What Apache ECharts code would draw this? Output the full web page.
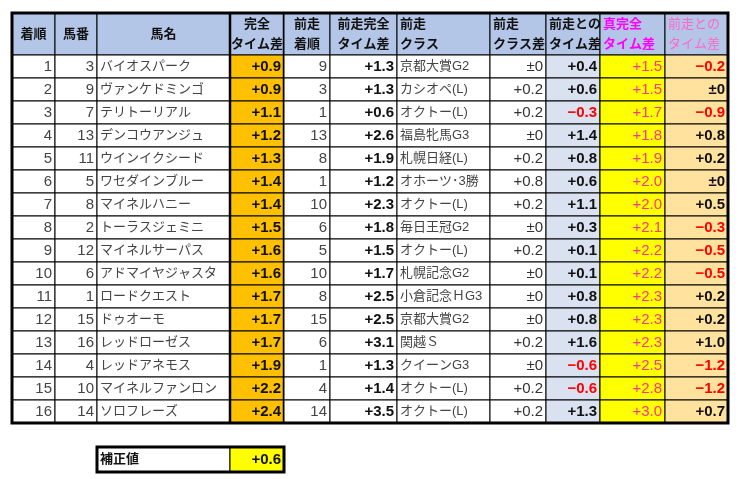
<!DOCTYPE html>
<html>
<head>
<meta charset="utf-8">
<script src="https://cdn.jsdelivr.net/npm/echarts@6/dist/echarts.min.js"></script>
<style>html,body{margin:0;background:#fff}#main{width:739px;height:479px}</style>
</head>
<body>
<div id="main"></div>
<script>
// 表のデータ
let headers = ['着順', '馬番', '馬名', '完全\nタイム差', '前走\n着順', '前走完全\nタイム差', '前走\nクラス', '前走\nクラス差', '前走との\nタイム差', '真完全\nタイム差', '前走との\nタイム差'];
let finish = [1, 2, 3, 4, 5, 6, 7, 8, 9, 10, 11, 12, 13, 14, 15, 16];
let horseNo = [3, 9, 7, 13, 11, 5, 8, 2, 12, 6, 1, 15, 16, 4, 10, 14];
let names = ['バイオスパーク', 'ヴァンケドミンゴ', 'テリトーリアル', 'デンコウアンジュ', 'ウインイクシード', 'ワセダインブルー', 'マイネルハニー', 'トーラスジェミニ', 'マイネルサーパス', 'アドマイヤジャスタ', 'ロードクエスト', 'ドゥオーモ', 'レッドローゼス', 'レッドアネモス', 'マイネルファンロン', 'ソロフレーズ'];
let fullDiff = [0.9, 0.9, 1.1, 1.2, 1.3, 1.4, 1.4, 1.5, 1.6, 1.6, 1.7, 1.7, 1.7, 1.9, 2.2, 2.4];
let prevFinish = [9, 3, 1, 13, 8, 1, 10, 6, 5, 10, 8, 15, 6, 1, 4, 14];
let prevFull = [1.3, 1.3, 0.6, 2.6, 1.9, 1.2, 2.3, 1.8, 1.5, 1.7, 2.5, 2.5, 3.1, 1.3, 1.4, 3.5];
let prevClass = ['京都大賞G2', 'カシオペ(L)', 'オクトー(L)', '福島牝馬G3', '札幌日経(L)', 'オホーツ･3勝', 'オクトー(L)', '毎日王冠G2', 'オクトー(L)', '札幌記念G2', '小倉記念ＨG3', '京都大賞G2', '関越Ｓ', 'クイーンG3', 'オクトー(L)', 'オクトー(L)'];
let classDiff = [0, 0.2, 0.2, 0, 0.2, 0.8, 0.2, 0, 0.2, 0, 0, 0, 0.2, 0, 0.2, 0.2];
let prevTimeDiff = [0.4, 0.6, -0.3, 1.4, 0.8, 0.6, 1.1, 0.3, 0.1, 0.1, 0.8, 0.8, 1.6, -0.6, -0.6, 1.3];
let trueFull = [1.5, 1.5, 1.7, 1.8, 1.9, 2.0, 2.0, 2.1, 2.2, 2.2, 2.3, 2.3, 2.3, 2.5, 2.8, 3.0];
let vsPrev = [-0.2, 0, -0.9, 0.8, 0.2, 0, 0.5, -0.3, -0.5, -0.5, 0.2, 0.2, 1.0, -1.2, -1.2, 0.7];
let correction = 0.6;

// レイアウト(軸の単位)
let colEdges = [0, 43, 85, 218, 272, 318, 385, 478, 534, 588, 653, 716];
let headH = 42, rowH = 23, boxGap = 24, boxH = 25;
let colAlign = ['right', 'right', 'left', 'right', 'right', 'right', 'left', 'right', 'right', 'right', 'right'];
let headAlign = ['center', 'center', 'center', 'center', 'center', 'center', 'left', 'left', 'left', 'left', 'left'];
let colBg = ['#fff', '#fff', '#fff', '#FFC000', '#fff', '#fff', '#fff', '#fff', '#DAE1F0', '#FFFF00', '#FFE29E'];
let boldCols = [3, 5, 8, 10];

function fmt(v) {
  if (v === 0) return '±0';
  let s = Math.abs(v).toFixed(1);
  return (v > 0 ? '+' : '−') + s;
}

let FONT = '"Liberation Sans","Noto Sans CJK JP",sans-serif';
let cells = [];
headers.forEach(function (h, c) {
  cells.push({ value: [c, -1], text: h, head: true });
});
finish.forEach(function (f, i) {
  let row = [String(f), String(horseNo[i]), names[i], fmt(fullDiff[i]), String(prevFinish[i]), fmt(prevFull[i]),
    prevClass[i], fmt(classDiff[i]), fmt(prevTimeDiff[i]), fmt(trueFull[i]), fmt(vsPrev[i])];
  let nums = [null, null, null, fullDiff[i], null, prevFull[i], null, classDiff[i], prevTimeDiff[i], trueFull[i], vsPrev[i]];
  row.forEach(function (t, c) {
    cells.push({ value: [c, i], text: t, num: nums[c] });
  });
});
// 補正値
cells.push({ value: [2, 17], text: '補正値', extra: true });
cells.push({ value: [3, 17], text: fmt(correction), extra: true });

function renderItem(params, api) {
  let d = cells[params.dataIndex];
  let c = d.value[0], r = d.value[1];
  let y0, y1;
  if (r === -1) { y0 = 0; y1 = headH; }
  else if (r === 17) { y0 = headH + rowH * 16 + boxGap; y1 = y0 + boxH; }
  else { y0 = headH + rowH * r; y1 = y0 + rowH; }
  let p0 = api.coord([colEdges[c], y0]);
  let p1 = api.coord([colEdges[c + 1], y1]);
  let x = p0[0], y = p0[1], w = p1[0] - p0[0], h = p1[1] - p0[1];
  let fill, color = '#333', weight = 'normal', align, size = 15;
  if (d.head) {
    fill = '#B4C6E7'; color = '#111'; align = headAlign[c]; size = 13; weight = 'bold';
    if (c === 9) color = '#FF00FF';
    if (c === 10) { color = '#FF66CC'; weight = 'normal'; }
  } else if (d.extra) {
    fill = c === 3 ? '#FFFF00' : '#fff'; align = c === 3 ? 'right' : 'left';
    weight = 'bold'; color = '#111'; size = c === 3 ? 15 : 13;
  } else {
    fill = colBg[c]; align = colAlign[c];
    if (boldCols.indexOf(c) >= 0) { weight = 'bold'; color = '#111'; }
    if (c === 9) color = '#FF3399';
    if ((c === 8 || c === 10) && d.num < 0) { color = '#FF0000'; weight = 'bold'; }
    if (c === 0 || c === 1 || c === 4) color = '#444';
    if (c === 2 || c === 6) { color = '#444'; size = 13; }
  }
  let tx = align === 'left' ? x + 3 : align === 'right' ? x + w - 3 : x + w / 2;
  let thick = (c === 3 && !d.extra);
  return {
    type: 'group',
    children: [
      { type: 'rect', shape: { x: x, y: y, width: w, height: h },
        style: { fill: fill, stroke: '#000', lineWidth: 1 } },
      { type: 'line', shape: { x1: x, y1: y, x2: x, y2: y + h }, invisible: !thick,
        style: { stroke: '#000', lineWidth: 2.5 } },
      { type: 'line', shape: { x1: x + w, y1: y, x2: x + w, y2: y + h }, invisible: !thick,
        style: { stroke: '#000', lineWidth: 2.5 } },
      { type: 'text', x: tx, y: y + h / 2,
        style: { text: d.text, fill: color, fontSize: size, fontWeight: weight, fontFamily: FONT,
          align: align, verticalAlign: 'middle', lineHeight: 20 } }
    ]
  };
}

// 外枠
function renderFrame(params, api) {
  let top = headH + rowH * 16 + boxGap;
  let boxes = [[0, 0, 716, headH + rowH * 16], [85, top, 272, top + boxH]];
  let b = boxes[params.dataIndex];
  let p0 = api.coord([b[0], b[1]]), p1 = api.coord([b[2], b[3]]);
  return { type: 'rect', shape: { x: p0[0], y: p0[1], width: p1[0] - p0[0], height: p1[1] - p0[1] },
    style: { fill: 'none', stroke: '#000', lineWidth: 3 } };
}

let chart = echarts.init(document.getElementById('main'));
chart.setOption({
  animation: false,
  grid: { left: 12, top: 13, width: 716, height: 460 },
  xAxis: { type: 'value', min: 0, max: 716, show: false },
  yAxis: { type: 'value', min: 0, max: 460, inverse: true, show: false },
  series: [
    { type: 'custom', renderItem: renderItem, data: cells.map(function (d) { return d.value; }), clip: false },
    { type: 'custom', renderItem: renderFrame, data: [[0, 0], [1, 1]], clip: false, z: 5 }
  ]
});
</script>
</body>
</html>
